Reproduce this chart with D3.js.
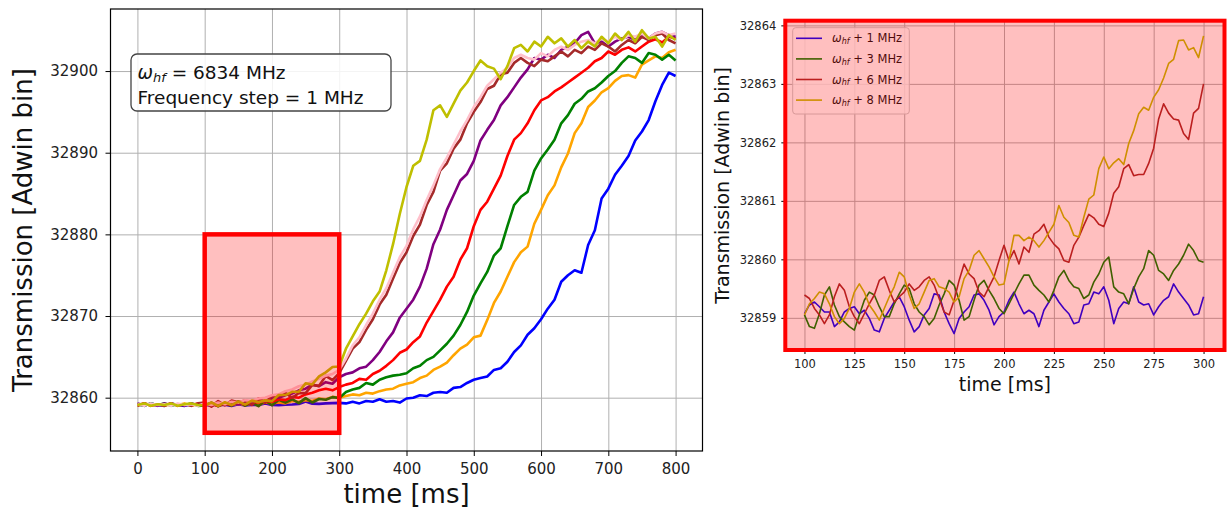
<!DOCTYPE html>
<html>
<head>
<meta charset="utf-8">
<script src="https://cdn.jsdelivr.net/npm/d3@7/dist/d3.min.js"></script>
<style>
  body { margin: 0; background: #fff; }
  svg { font-family: "DejaVu Sans", sans-serif; }
</style>
</head>
<body>
<svg id="fig" width="1227" height="512"></svg>
<script>
// ---- data: full scan (left panel), one sample every 10 ms ----
const timeFull = d3.range(0, 801, 10);
const stepsFull = [1, 2, 3, 4, 5, 6, 7, 8];   // MHz above w_hf
const colorsFull = ['blue', 'orange', 'green', 'red', 'purple', 'brown', 'pink', '#bfbf00'];

const trans1 = [32859.2,32859.0,32859.3,32859.1,32859.0,32859.3,32859.1,32859.0,32859.2,32859.1,
  32859.07,32859.10,32859.10,32859.13,32858.99,32859.19,32859.05,32859.10,32859.10,32859.30,
  32859.10,32859.07,32859.13,32859.16,32859.22,32859.53,32859.27,32859.24,32859.30,32859.33,
  32859.36,32859.3,32859.5,32859.3,32859.6,32859.5,32859.8,32859.5,32859.6,32859.4,
  32859.9,32860.0,32860.3,32860.2,32860.6,32860.7,32860.6,32861.2,32861.3,32861.8,
  32862.2,32862.4,32862.6,32863.4,32863.6,32864.4,32865.6,32866.4,32867.7,32868.5,
  32869.6,32870.9,32872.0,32874.2,32875.0,32875.6,32875.3,32878.7,32880.5,32884.4,
  32885.6,32887.3,32888.4,32889.6,32891.5,32892.6,32894.0,32896.3,32898.3,32899.8,
  32899.4];
const trans2 = [32859.0,32859.3,32859.1,32859.2,32859.0,32859.2,32859.1,32859.3,32859.0,32859.2,
  32859.1,32859.3,32859.0,32859.2,32859.1,32859.3,32859.1,32859.3,32859.2,32859.4,
  32859.3,32859.4,32859.3,32859.6,32859.5,32859.7,32859.6,32859.9,32859.8,32860.1,
  32860.0,32860.2,32860.4,32860.3,32860.6,32860.5,32860.8,32861.0,32861.1,32861.5,
  32861.7,32861.9,32862.4,32862.7,32863.4,32863.8,32864.3,32865.2,32866.0,32866.5,
  32867.4,32867.6,32869.5,32871.6,32873.0,32874.8,32876.6,32877.8,32878.5,32881.3,
  32883.0,32884.8,32886.0,32888.2,32889.9,32892.4,32893.6,32895.6,32896.4,32897.4,
  32897.9,32898.8,32899.4,32899.5,32899.2,32900.8,32901.3,32901.8,32901.6,32902.3,
  32902.6];
const trans3 = [32859.2,32859.0,32859.3,32859.1,32859.3,32859.0,32859.2,32859.1,32859.3,32859.0,
  32859.05,32859.39,32858.93,32859.30,32859.02,32859.56,32859.02,32859.41,32858.96,32859.64,
  32859.07,32859.73,32859.39,32859.81,32859.33,32859.95,32859.41,32859.84,32859.75,32860.07,
  32859.95,32860.7,32861.0,32861.2,32861.8,32861.6,32862.2,32862.5,32862.7,32862.8,
  32863.0,32863.6,32863.9,32864.6,32865.0,32865.8,32866.6,32867.6,32868.9,32870.5,
  32872.5,32874.0,32875.4,32877.4,32878.3,32881.0,32883.6,32884.6,32885.2,32887.8,
  32889.3,32890.4,32891.6,32893.6,32894.6,32896.0,32896.6,32897.5,32897.9,32898.6,
  32899.4,32900.0,32901.0,32901.8,32901.6,32901.0,32902.2,32902.0,32901.4,32902.0,
  32901.3];
const trans4 = [32859.1,32859.3,32859.0,32859.2,32859.1,32859.3,32859.0,32859.2,32859.1,32859.3,
  32859.1,32859.2,32859.0,32859.3,32859.1,32859.4,32859.2,32859.5,32859.4,32859.6,
  32859.5,32859.8,32859.7,32860.1,32860.0,32860.4,32860.6,32860.9,32861.1,32860.9,
  32861.3,32861.6,32861.8,32862.3,32862.2,32862.9,32863.3,32863.9,32864.6,32865.5,
  32865.9,32866.8,32867.5,32869.2,32870.6,32872.0,32873.6,32874.8,32876.9,32878.3,
  32881.0,32883.0,32884.0,32885.6,32887.2,32889.6,32891.6,32892.4,32893.6,32895.2,
  32896.4,32896.8,32897.5,32898.0,32898.6,32899.2,32899.8,32900.4,32901.2,32901.6,
  32902.4,32902.0,32902.6,32902.9,32902.4,32903.0,32903.6,32903.9,32903.5,32904.2,
  32904.0];
const trans5 = [32859.3,32859.1,32859.2,32859.0,32859.3,32859.1,32859.2,32859.0,32859.3,32859.1,
  32859.2,32859.0,32859.3,32859.1,32859.4,32859.2,32859.5,32859.4,32859.7,32859.6,
  32859.9,32860.0,32860.3,32860.5,32860.9,32861.1,32861.6,32861.4,32861.9,32861.7,
  32862.5,32862.9,32863.1,32863.6,32863.8,32864.6,32865.6,32866.9,32868.0,32869.8,
  32870.9,32872.0,32873.6,32875.8,32878.8,32880.6,32883.0,32884.8,32886.6,32887.4,
  32889.0,32891.5,32892.8,32894.0,32895.8,32896.8,32898.0,32899.2,32900.2,32901.6,
  32901.4,32902.0,32901.6,32902.6,32903.0,32903.4,32904.4,32904.8,32903.4,32903.6,
  32903.0,32903.6,32904.0,32904.2,32903.8,32904.4,32904.0,32904.6,32904.8,32904.4,
  32904.2];
const trans6 = [32859.0,32859.3,32859.1,32859.2,32859.0,32859.3,32859.1,32859.2,32859.0,32859.3,
  32859.39,32858.90,32859.58,32859.07,32859.64,32859.44,32859.64,32859.10,32859.92,32859.36,
  32860.24,32860.21,32860.60,32859.98,32860.58,32860.56,32861.55,32861.45,32862.66,32862.15,
  32863.0,32864.5,32866.0,32866.8,32868.3,32869.6,32871.4,32872.6,32874.6,32876.5,
  32877.8,32879.8,32881.2,32883.6,32885.2,32887.8,32888.7,32890.5,32891.6,32893.6,
  32895.0,32896.2,32897.8,32898.2,32899.6,32899.8,32901.0,32901.6,32901.0,32900.6,
  32901.4,32901.2,32901.8,32902.4,32901.8,32902.6,32902.2,32903.0,32902.6,32903.4,
  32903.0,32902.4,32903.2,32903.8,32903.4,32904.2,32903.8,32904.4,32904.6,32903.8,
  32903.4];
const trans7 = [32859.2,32859.0,32859.3,32859.1,32859.2,32859.0,32859.3,32859.1,32859.2,32859.0,
  32859.3,32859.1,32859.4,32859.2,32859.5,32859.4,32859.7,32859.6,32859.9,32860.0,
  32860.3,32860.4,32860.8,32861.0,32861.4,32861.6,32862.0,32862.3,32862.7,32862.9,
  32863.4,32864.8,32866.4,32867.4,32868.9,32870.3,32872.0,32873.4,32875.3,32877.2,
  32878.6,32880.6,32882.2,32884.2,32886.0,32888.0,32889.4,32891.0,32892.6,32894.0,
  32895.6,32896.8,32898.2,32899.0,32899.8,32900.4,32901.6,32902.0,32901.6,32901.4,
  32902.2,32901.8,32902.6,32903.0,32902.6,32903.2,32903.6,32903.8,32903.4,32904.0,
  32903.6,32904.2,32903.8,32904.4,32904.2,32904.6,32904.0,32904.6,32904.8,32904.4,
  32904.6];
const trans8 = [32859.1,32859.3,32859.0,32859.2,32859.1,32859.3,32859.0,32859.2,32859.3,32859.1,
  32859.05,32859.41,32858.99,32859.44,32859.10,32859.53,32859.16,32859.64,32859.44,32859.67,
  32859.58,32860.32,32860.32,32860.72,32860.72,32861.75,32861.62,32862.60,32863.10,32863.75,
  32863.82,32866.0,32867.5,32869.0,32870.3,32871.8,32873.0,32875.6,32878.8,32882.5,
  32885.8,32888.4,32889.0,32891.6,32895.2,32895.8,32894.4,32896.0,32897.6,32898.6,
  32900.0,32901.3,32900.6,32900.3,32899.0,32900.6,32902.8,32903.2,32902.4,32903.6,
  32903.0,32904.2,32903.4,32904.0,32903.0,32903.8,32902.8,32903.6,32903.0,32904.2,
  32903.4,32904.6,32903.8,32904.8,32903.6,32905.0,32904.0,32904.2,32903.0,32904.4,
  32903.8];
const transFull = [trans1, trans2, trans3, trans4, trans5, trans6, trans7, trans8];

// zoomed window drawn on the left panel
const windowTime = [100, 300];
const windowLevel = [32855.7, 32880];

// ---- data: zoom (right panel), one sample every 2.5 ms ----
const timeZoom = d3.range(100, 300.1, 2.5);
const stepsZoom = [1, 3, 6, 8];
const colorsZoom = ['blue', 'green', 'brown', '#bfbf00'];
const zoom1 = [32859.07,32859.22,32859.27,32859.19,32859.10,32859.10,32858.85,32858.93,32859.10,32859.16,
  32859.19,32859.07,32859.13,32858.99,32858.79,32858.76,32858.99,32859.13,32859.27,32859.36,
  32859.19,32858.96,32858.76,32858.85,32859.05,32859.16,32859.41,32859.39,32859.10,32858.90,
  32858.73,32858.99,32859.10,32859.19,32859.39,32859.41,32859.30,32859.13,32858.88,32859.02,
  32859.10,32859.30,32859.44,32859.24,32859.07,32859.13,32859.07,32858.85,32859.13,32859.27,
  32859.41,32859.27,32859.16,32859.07,32858.90,32858.93,32859.22,32859.24,32859.44,32859.41,
  32859.53,32859.30,32858.90,32859.16,32859.27,32859.24,32859.53,32859.27,32859.22,32859.24,
  32859.05,32859.19,32859.30,32859.36,32859.58,32859.44,32859.33,32859.22,32859.05,32859.07,
  32859.36];
const zoom3 = [32859.05,32858.85,32858.82,32859.07,32859.39,32859.53,32859.22,32859.02,32858.93,32858.85,
  32858.79,32859.05,32859.30,32859.44,32859.39,32859.19,32859.02,32859.02,32859.24,32859.41,
  32859.56,32859.50,32859.24,32859.10,32859.02,32858.88,32858.99,32859.22,32859.41,32859.64,
  32859.56,32859.30,32858.96,32859.02,32859.30,32859.56,32859.64,32859.47,32859.33,32859.16,
  32859.07,32859.24,32859.41,32859.58,32859.73,32859.73,32859.56,32859.47,32859.39,32859.27,
  32859.47,32859.70,32859.81,32859.64,32859.53,32859.50,32859.33,32859.39,32859.61,32859.75,
  32859.95,32860.04,32859.53,32859.44,32859.41,32859.24,32859.50,32859.70,32859.84,32860.15,
  32860.07,32859.81,32859.75,32859.64,32859.81,32859.92,32860.07,32860.26,32860.15,32859.98,
  32859.95];
const zoom6 = [32859.39,32859.33,32859.16,32859.05,32858.90,32859.05,32859.36,32859.58,32859.47,32859.19,
  32859.02,32858.90,32859.07,32859.24,32859.39,32859.64,32859.70,32859.47,32859.27,32859.36,
  32859.44,32859.58,32859.47,32859.53,32859.64,32859.70,32859.56,32859.33,32859.10,32859.05,
  32859.30,32859.64,32859.92,32859.75,32859.67,32859.44,32859.36,32859.53,32859.70,32859.98,
  32860.24,32859.98,32860.15,32859.92,32860.21,32860.12,32860.43,32860.49,32860.60,32860.38,
  32860.26,32860.18,32859.98,32859.95,32860.24,32860.38,32860.58,32860.77,32860.71,32860.60,
  32860.56,32860.79,32861.13,32861.24,32861.55,32861.62,32861.43,32861.45,32861.45,32861.64,
  32861.90,32862.40,32862.66,32862.50,32862.40,32862.38,32862.15,32862.05,32862.50,32862.58,
  32863.00];
const zoom8 = [32859.05,32859.24,32859.33,32859.44,32859.41,32859.24,32859.02,32858.90,32858.99,32859.16,
  32859.44,32859.58,32859.44,32859.22,32859.10,32858.96,32859.16,32859.36,32859.53,32859.78,
  32859.70,32859.39,32859.16,32859.24,32859.44,32859.64,32859.67,32859.53,32859.50,32859.44,
  32859.27,32859.36,32859.67,32859.81,32860.07,32860.15,32860.01,32859.87,32859.70,32859.56,
  32859.58,32859.98,32860.41,32860.41,32860.32,32860.38,32860.32,32860.21,32860.32,32860.46,
  32860.60,32860.92,32860.72,32860.63,32860.41,32860.38,32860.72,32861.03,32861.10,32861.55,
  32861.75,32861.55,32861.65,32861.72,32861.62,32861.98,32862.20,32862.49,32862.60,32862.55,
  32862.77,32862.90,32863.10,32863.35,32863.42,32863.74,32863.75,32863.58,32863.62,32863.45,
  32863.82];
const transZoom = [zoom1, zoom3, zoom6, zoom8];

// ticks
const xTicksFull = [0, 100, 200, 300, 400, 500, 600, 700, 800];
const yTicksFull = [32860, 32870, 32880, 32890, 32900];
const xTicksZoom = [100, 125, 150, 175, 200, 225, 250, 275, 300];
const yTicksZoom = [32859, 32860, 32861, 32862, 32863, 32864];
const hfFreq = 6834;
const freqStep = 1;

const svg = d3.select('#fig');

// grid + ticks + labels for one panel
function drawAxes(g, x, y, box, o) {
  const h = box.y1 - box.y0, w = box.x1 - box.x0;
  g.append('g').attr('transform', `translate(0,${box.y1})`)
    .call(d3.axisBottom(x).tickValues(o.xt).tickSize(-h).tickFormat(''))
    .call(s => s.select('.domain').remove())
    .call(s => s.selectAll('.tick line').attr('stroke', '#b0b0b0').attr('stroke-width', 1));
  g.append('g').attr('transform', `translate(${box.x0},0)`)
    .call(d3.axisLeft(y).tickValues(o.yt).tickSize(-w).tickFormat(''))
    .call(s => s.select('.domain').remove())
    .call(s => s.selectAll('.tick line').attr('stroke', '#b0b0b0').attr('stroke-width', 1));

  g.append('g').attr('transform', `translate(0,${box.y1})`)
    .call(d3.axisBottom(x).tickValues(o.xt).tickSize(o.tick).tickPadding(o.xpad).tickFormat(d3.format('d')))
    .call(s => s.select('.domain').remove())
    .call(s => s.selectAll('text').attr('font-size', o.font).attr('fill', '#222').attr('font-family', 'DejaVu Sans'));
  g.append('g').attr('transform', `translate(${box.x0},0)`)
    .call(d3.axisLeft(y).tickValues(o.yt).tickSize(o.tick).tickPadding(o.ypad).tickFormat(d3.format('d')))
    .call(s => s.select('.domain').remove())
    .call(s => s.selectAll('text').attr('font-size', o.font).attr('fill', '#222').attr('font-family', 'DejaVu Sans'));

  g.append('text')
    .attr('x', (box.x0 + box.x1) / 2).attr('y', o.xlabelY)
    .attr('text-anchor', 'middle').attr('font-size', o.labelFont).attr('fill', '#111')
    .text('time [ms]');
  g.append('text')
    .attr('transform', `translate(${o.ylabelX},${(box.y0 + box.y1) / 2}) rotate(-90)`)
    .attr('text-anchor', 'middle').attr('font-size', o.labelFont).attr('fill', '#111')
    .text('Transmission [Adwin bin]');
}

// w_hf with subscript, as matplotlib mathtext
function omegaLabel(t, size, rest) {
  t.attr('font-size', size);
  t.append('tspan').attr('font-style', 'italic').text('ω');
  t.append('tspan').attr('font-style', 'italic').attr('font-size', size * 0.7).attr('dy', size * 0.17).text('hf');
  t.append('tspan').attr('dy', -size * 0.17).text(rest);
}

// ================= left panel =================
const boxL = {x0: 110.5, x1: 702.5, y0: 9, y1: 451};
const xL = d3.scaleLinear().domain([-40, 840]).range([boxL.x0, boxL.x1]);
const yL = d3.scaleLinear().domain([32853.47, 32907.6]).range([boxL.y1, boxL.y0]);
const gL = svg.append('g');
drawAxes(gL, xL, yL, boxL, {xt: xTicksFull, yt: yTicksFull, tick: 5, xpad: 7, ypad: 7.5,
  font: 15, labelFont: 26, xlabelY: 503, ylabelX: 32});

svg.append('clipPath').attr('id', 'clipL').append('rect')
  .attr('x', boxL.x0).attr('y', boxL.y0).attr('width', boxL.x1 - boxL.x0).attr('height', boxL.y1 - boxL.y0);
const lineL = d3.line().x((d, i) => xL(timeFull[i])).y(d => yL(d));
gL.append('g').attr('clip-path', 'url(#clipL)')
  .selectAll('path').data(transFull).join('path')
  .attr('fill', 'none')
  .attr('stroke', (d, i) => colorsFull[i])
  .attr('stroke-width', 2.6)
  .attr('stroke-linejoin', 'round')
  .attr('d', lineL);

gL.append('rect')
  .attr('x', xL(windowTime[0])).attr('y', yL(windowLevel[1]))
  .attr('width', xL(windowTime[1]) - xL(windowTime[0]))
  .attr('height', yL(windowLevel[0]) - yL(windowLevel[1]))
  .attr('fill', 'red').attr('fill-opacity', 0.25)
  .attr('stroke', 'red').attr('stroke-width', 4.5);

gL.append('rect')
  .attr('x', boxL.x0).attr('y', boxL.y0)
  .attr('width', boxL.x1 - boxL.x0).attr('height', boxL.y1 - boxL.y0)
  .attr('fill', 'none').attr('stroke', '#000').attr('stroke-width', 1.2);

// info box
const info = gL.append('g');
info.append('rect')
  .attr('x', 131).attr('y', 54).attr('width', 260).attr('height', 57).attr('rx', 6)
  .attr('fill', 'white').attr('fill-opacity', 0.85)
  .attr('stroke', '#444').attr('stroke-width', 1.3);
omegaLabel(info.append('text').attr('x', 137.5).attr('y', 78.5).attr('fill', '#111'), 18.5, ` = ${hfFreq} MHz`);
info.append('text').attr('x', 137.5).attr('y', 103.5).attr('font-size', 18.5).attr('fill', '#111')
  .text(`Frequency step = ${freqStep} MHz`);

// ================= right panel =================
const boxR = {x0: 785.3, x1: 1224.5, y0: 20.7, y1: 350};
const xR = d3.scaleLinear().domain([90.4, 310.5]).range([boxR.x0, boxR.x1]);
const yR = d3.scaleLinear().domain([32858.45, 32864.08]).range([boxR.y1, boxR.y0]);
const gR = svg.append('g');
drawAxes(gR, xR, yR, boxR, {xt: xTicksZoom, yt: yTicksZoom, tick: 4, xpad: 6, ypad: 5,
  font: 11.5, labelFont: 19, xlabelY: 391, ylabelX: 728.5});

const lineR = d3.line().x((d, i) => xR(timeZoom[i])).y(d => yR(d));
gR.append('g')
  .selectAll('path').data(transZoom).join('path')
  .attr('fill', 'none')
  .attr('stroke', (d, i) => colorsZoom[i])
  .attr('stroke-width', 1.6)
  .attr('stroke-linejoin', 'round')
  .attr('d', lineR);

// legend
const leg = gR.append('g');
leg.append('rect')
  .attr('x', 792.7).attr('y', 27.7).attr('width', 116.6).attr('height', 86.3).attr('rx', 3)
  .attr('fill', 'white').attr('fill-opacity', 0.8)
  .attr('stroke', '#cccccc').attr('stroke-width', 1);
stepsZoom.forEach((s, i) => {
  const yy = 38.3 + i * 20.6;
  leg.append('line').attr('x1', 796).attr('x2', 822).attr('y1', yy).attr('y2', yy)
    .attr('stroke', colorsZoom[i]).attr('stroke-width', 1.6);
  omegaLabel(leg.append('text').attr('x', 832).attr('y', yy + 4).attr('fill', '#111'), 11.5, ` + ${s} MHz`);
});

// red highlight over the whole zoom axes
gR.append('rect')
  .attr('x', boxR.x0).attr('y', boxR.y0)
  .attr('width', boxR.x1 - boxR.x0).attr('height', boxR.y1 - boxR.y0)
  .attr('fill', 'red').attr('fill-opacity', 0.25)
  .attr('stroke', 'red').attr('stroke-width', 4);
</script>
</body>
</html>
